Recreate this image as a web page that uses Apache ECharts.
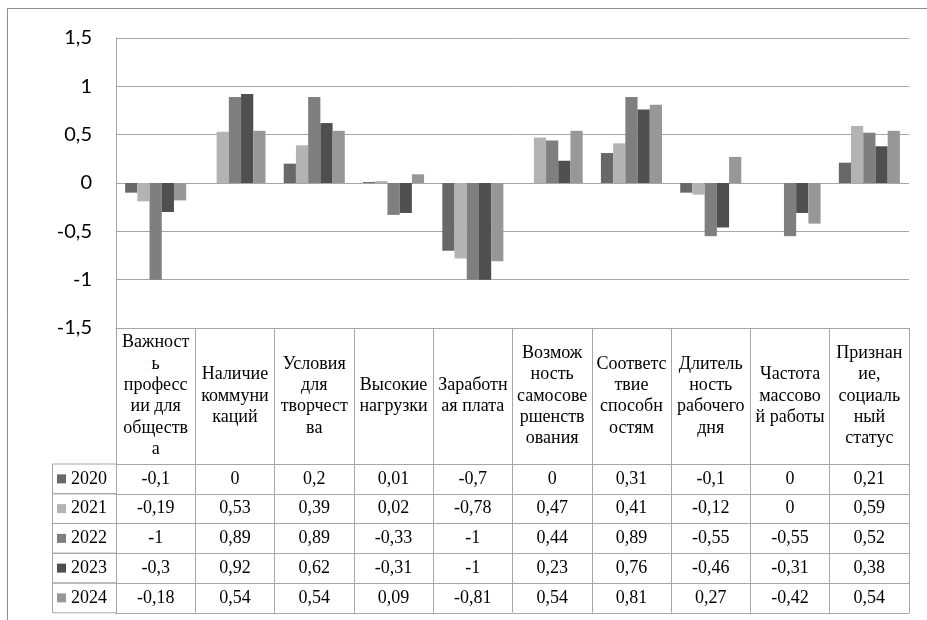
<!DOCTYPE html>
<html>
<head>
<meta charset="utf-8">
<script src="https://cdn.jsdelivr.net/npm/echarts@6/dist/echarts.min.js"></script>
<style>
html, body { margin: 0; padding: 0; background: #fff; }
#chart { width: 927px; height: 620px; }
</style>
</head>
<body>
<div id="chart"></div>
<script>
// категории (переносы строк как в таблице Excel)
var categories = [
	'Важност\nь\nпрофесс\nии для\nобществ\nа',
	'Наличие\nкоммуни\nкаций',
	'Условия\nдля\nтворчест\nва',
	'Высокие\nнагрузки',
	'Заработн\nая плата',
	'Возмож\nность\nсамосове\nршенств\nования',
	'Соответс\nтвие\nспособн\nостям',
	'Длитель\nность\nрабочего\nдня',
	'Частота\nмассово\nй работы',
	'Признан\nие,\nсоциаль\nный\nстатус'
];
var years = ['2020', '2021', '2022', '2023', '2024'];
var v2020 = [-0.1, 0, 0.2, 0.01, -0.7, 0, 0.31, -0.1, 0, 0.21];
var v2021 = [-0.19, 0.53, 0.39, 0.02, -0.78, 0.47, 0.41, -0.12, 0, 0.59];
var v2022 = [-1, 0.89, 0.89, -0.33, -1, 0.44, 0.89, -0.55, -0.55, 0.52];
var v2023 = [-0.3, 0.92, 0.62, -0.31, -1, 0.23, 0.76, -0.46, -0.31, 0.38];
var v2024 = [-0.18, 0.54, 0.54, 0.09, -0.81, 0.54, 0.81, 0.27, -0.42, 0.54];
var yTicks = [-1.5, -1, -0.5, 0, 0.5, 1, 1.5];

var values = [v2020, v2021, v2022, v2023, v2024];
var colors = ['#686868', '#b3b3b3', '#7f7f7f', '#4f4f4f', '#979797'];
var lineColor = '#a6a6a6';

// разметка
var gridTop = 38, gridBottomY = 328, headerH = 136, rowH = 29.75;
var tableLeft = 52, gridLeft = 116;
var tableFont = 'Liberation Serif';

function fmt(v) {
	return String(v).replace('.', ',');
}

var xAxes = [{
	type : 'category',
	data : categories,
	position : 'bottom',
	axisLine : { show : true, onZero : false, lineStyle : { color : lineColor } },
	axisTick : { show : true, interval : 0, alignWithLabel : false, length : headerH, lineStyle : { color : lineColor } },
	axisLabel : {
		interval : 0,
		margin : headerH / 2,
		verticalAlign : 'middle',
		fontFamily : tableFont,
		fontSize : 18,
		lineHeight : 21.3,
		color : '#000'
	}
}];
years.forEach(function(y, k) {
	xAxes.push({
		type : 'category',
		data : categories,
		position : 'bottom',
		offset : headerH + k * rowH,
		axisLine : { show : true, onZero : false, lineStyle : { color : lineColor } },
		axisTick : { show : true, interval : 0, alignWithLabel : false, length : rowH, lineStyle : { color : lineColor } },
		axisLabel : {
			interval : 0,
			margin : rowH / 2,
			verticalAlign : 'middle',
			fontFamily : tableFont,
			fontSize : 18,
			color : '#000',
			formatter : function(val, i) {
				return fmt(values[k][i]);
			}
		}
	});
});
// нижняя граница таблицы
xAxes.push({
	type : 'category',
	data : categories,
	position : 'bottom',
	offset : headerH + years.length * rowH,
	axisLine : { show : true, onZero : false, lineStyle : { color : lineColor } },
	axisTick : { show : false },
	axisLabel : { show : false }
});

var series = years.map(function(y, k) {
	return {
		name : y,
		type : 'bar',
		xAxisIndex : 0,
		barGap : 0,
		barCategoryGap : '23%',
		itemStyle : { color : colors[k] },
		data : values[k]
	};
});

// рамка и ячейки легенды слева от таблицы
var graphics = [{
	type : 'rect',
	shape : { x : 7.5, y : 8.5, width : 1000, height : 700 },
	style : { fill : 'none', stroke : '#8c8c8c', lineWidth : 1 },
	silent : true
}];
years.forEach(function(y, k) {
	graphics.push({
		type : 'rect',
		shape : { x : tableLeft + 0.5, y : gridBottomY + headerH + k * rowH, width : gridLeft - tableLeft, height : rowH },
		style : { fill : 'none', stroke : lineColor, lineWidth : 1 },
		silent : true
	});
});

var option = {
	animation : false,
	backgroundColor : '#fff',
	grid : {
		left : gridLeft,
		right : 18,
		top : gridTop,
		bottom : 620 - gridBottomY
	},
	legend : {
		orient : 'vertical',
		left : 57,
		top : gridBottomY + headerH,
		padding : 0,
		itemGap : 0,
		itemWidth : 9,
		itemHeight : 9,
		icon : 'rect',
		selectedMode : false,
		textStyle : {
			fontFamily : tableFont,
			fontSize : 18,
			lineHeight : rowH,
			color : '#000'
		},
		data : years
	},
	xAxis : xAxes,
	yAxis : {
		type : 'value',
		min : yTicks[0],
		max : yTicks[yTicks.length - 1],
		interval : 0.5,
		axisLine : { show : true, lineStyle : { color : lineColor } },
		axisTick : { show : false },
		splitLine : { lineStyle : { color : lineColor } },
		axisLabel : {
			margin : 24,
			fontFamily : 'Lato',
			fontSize : 20,
			color : '#000',
			formatter : function(v) {
				return fmt(v);
			}
		}
	},
	graphic : graphics,
	series : series
};

var myChart = echarts.init(document.getElementById('chart'));
myChart.setOption(option);
</script>
</body>
</html>
